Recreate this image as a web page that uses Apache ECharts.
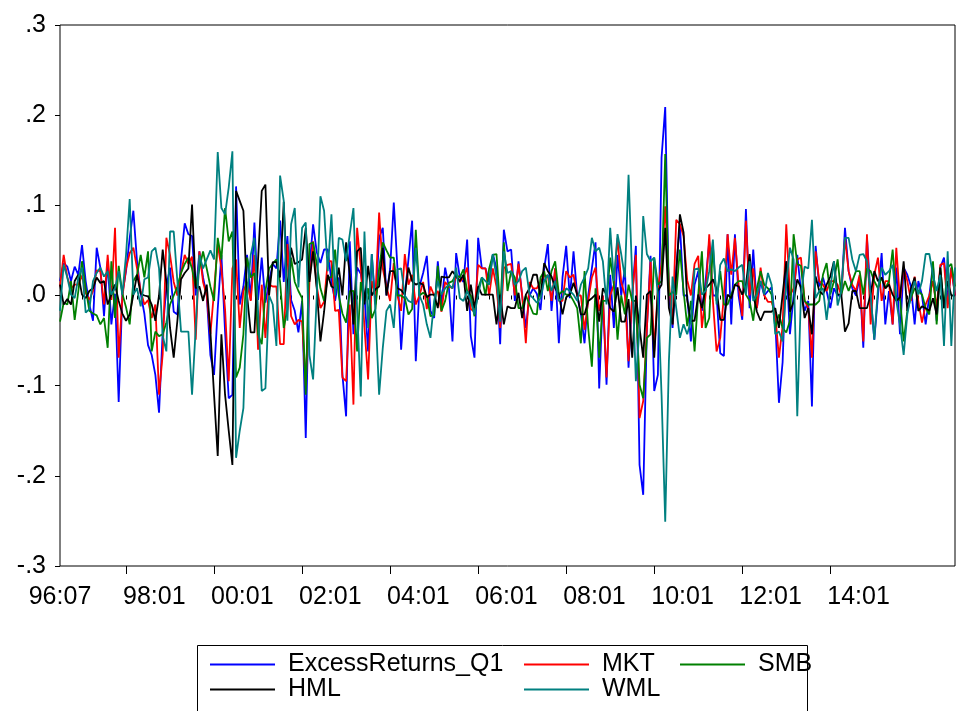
<!DOCTYPE html>
<html>
<head>
<meta charset="utf-8">
<script src="https://cdn.jsdelivr.net/npm/echarts@6/dist/echarts.min.js"></script>
<style>
  html, body { margin: 0; padding: 0; background: #fff; }
  #chart { width: 956px; height: 711px; }
</style>
</head>
<body>
<div id="chart"></div>
<script>
// Monthly sample: 1996:07 onward, 245 observations
const startYear = 1996, startMonth = 7, nObs = 245;
const months = [];
for (let k = 0; k < nObs; k++) {
  const m = (startMonth - 1) + k;
  const y = startYear + Math.floor(m / 12);
  months.push(String(y % 100).padStart(2, '0') + ':' + String(m % 12 + 1).padStart(2, '0'));
}

// Axis tick labels
const firstTickLabel = '96:07';
const yearTickLabels = ['98:01', '00:01', '02:01', '04:01', '06:01', '08:01', '10:01', '12:01', '14:01'];
const yTickLabels = ['-.3', '-.2', '-.1', '.0', '.1', '.2', '.3'];

// Series (monthly returns)
const excessQ1 = [
  .016, .036, .032, .016, .032, .023, .056, .016, -.010, -.028,
  .053, .031, -.023, .038, -.032, .002, -.118, .002, .027, .064,
  .094, .038, .002, -.020, -.055, -.066, -.088, -.130, -.040, .010,
  .031, -.018, -.021, .040, .080, .068, .066, .000, .049, .020,
  .000, -.066, -.088, -.015, .045, -.040, -.114, -.110, .121, -.010,
  .010, .045, -.005, .081, -.005, .042, -.008, .015, .035, .030,
  .083, .015, .066, -.005, -.017, -.041, -.006, -.158, .030, .079,
  .048, .036, .051, .051, .015, -.006, .020, -.088, -.134, .060,
  -.043, .031, .024, .000, -.062, .046, -.010, .064, .075, .000,
  .030, .103, .030, -.060, .000, .040, .083, -.073, .010, .025,
  .044, -.017, -.025, .038, -.010, .031, .010, -.051, .047, .020,
  .015, .062, -.045, -.069, .064, .030, .030, .015, .046, .030,
  -.054, .073, .049, .051, -.006, .038, .000, -.036, .000, .008,
  .002, -.016, .030, .057, -.017, .030, -.053, .020, .055, -.003,
  .049, .000, -.020, -.053, .000, .030, .059, -.103, .000, -.099,
  .023, -.036, .045, .000, .030, -.080, .000, .055, -.188, -.221,
  -.036, .044, -.106, -.088, .153, .209, .000, -.036, .030, .079,
  .000, .000, -.051, .012, .027, -.017, .016, .060, .000, .000,
  -.064, -.067, .068, -.032, .068, .000, -.027, .096, -.014, .051,
  -.014, .016, .000, .005, .009, -.028, -.119, -.074, .038, -.043,
  .000, .045, .005, -.017, -.006, -.123, .055, .010, .020, .005,
  -.014, .008, .000, .000, .075, .027, .008, .000, .020, -.058,
  .064, .000, -.049, .000, .047, -.032, .005, -.032, .031, -.043,
  .031, .023, .010, -.032, .016, .000, -.032, .000, .034, -.028,
  .031, .042, -.006, .031, .000
];
const mkt = [
  .010, .045, .020, .008, .012, .012, .022, .003, -.005, .005,
  .028, .027, -.010, .045, -.005, .075, -.069, -.002, .030, .047,
  .053, .030, .005, -.010, -.005, -.025, -.010, -.110, -.065, .064,
  .045, .015, .000, .025, .045, .035, .043, -.049, .049, .015,
  .000, -.043, .005, .057, .030, -.015, -.095, .030, .040, -.036,
  .005, .015, -.006, .045, -.060, .012, -.047, .012, .010, .010,
  -.054, -.054, .057, -.023, -.032, -.027, -.029, -.100, .015, .060,
  .010, -.014, -.007, .038, .038, -.017, -.016, -.091, -.095, -.010,
  -.121, .075, .031, -.035, -.093, .016, .000, .092, .030, .010,
  -.006, .036, .000, -.017, .046, .012, .023, -.010, .000, .015,
  -.015, .010, .000, .005, -.018, .015, .010, .008, .022, .015,
  .020, .031, -.015, -.018, .034, .030, .030, .000, .030, .010,
  -.036, .030, .034, .035, .000, .035, .000, -.053, .015, .008,
  .008, .015, .022, .022, -.006, .030, -.006, -.006, .027, .020,
  .023, .000, .000, -.038, -.006, .020, .031, -.017, .000, -.091,
  .000, .012, .064, .015, .000, -.073, .000, .045, -.136, -.117,
  -.036, .038, -.062, .008, .035, .099, .015, -.032, .084, .079,
  .066, .017, .000, .035, .044, -.036, .000, .068, -.006, -.062,
  -.047, .000, .068, .023, .064, .012, -.023, .083, .000, .030,
  -.014, .031, .000, -.007, -.007, -.020, -.069, -.034, .079, .000,
  .008, .040, .042, -.006, -.014, -.069, .049, .016, .012, .005,
  .016, .016, .012, .000, .064, .027, .012, .005, .023, -.051,
  .068, -.032, .023, .042, -.006, .016, .016, -.032, .053, -.006,
  .031, .016, -.006, .021, -.006, -.030, -.010, .000, .016, -.014,
  .034, .036, -.014, .031, .000
];
const smb = [
  -.029, -.008, -.010, .016, -.027, .005, .038, .008, -.017, -.020,
  -.022, -.032, -.025, -.058, .038, -.025, .033, .002, -.013, -.032,
  .016, .023, .045, .020, .049, -.062, -.040, -.045, -.043, -.030,
  -.010, .000, .010, .025, .035, .042, .030, .010, .030, .049,
  .030, .010, -.006, .064, .040, .097, .060, .071, -.091, -.080,
  -.043, .042, .020, .025, -.043, -.054, .005, .030, .035, .040,
  .015, -.036, -.015, .042, .015, .005, -.003, -.110, .057, .059,
  .035, .008, -.006, .020, .020, .051, .000, -.020, -.030, .005,
  .005, -.062, .015, -.006, .008, -.025, -.015, .030, .059, .050,
  .042, .042, .000, .000, -.003, -.021, -.015, .073, .000, .003,
  .000, -.023, -.022, .033, -.017, -.006, .014, .016, .023, .020,
  .029, .005, .000, -.023, .008, .020, .000, .030, .045, .046,
  -.014, .059, .005, .027, .020, -.014, -.014, .000, -.010, -.020,
  -.021, .020, .027, .005, .027, .038, .001, .005, .001, .001,
  -.006, -.014, -.053, .027, -.036, -.079, .008, -.069, -.006, -.006,
  .042, .012, -.049, .000, -.021, .012, -.006, -.006, -.099, -.114,
  -.047, -.043, .042, .012, .016, .157, .000, .004, .001, .051,
  .005, -.034, -.006, -.062, .001, .049, -.036, -.025, .055, -.006,
  .027, -.010, -.010, .001, .012, .016, .016, .001, -.006, -.028,
  .008, .027, .012, .008, .001, -.036, -.021, -.036, -.041, -.028,
  .068, .035, .033, -.006, -.010, -.010, -.010, -.006, .023, .036,
  .001, .016, .040, .001, .016, .005, .016, .027, .027, .001,
  .030, .027, .016, .008, .020, .008, .016, .051, -.006, -.002,
  -.051, -.017, -.002, .008, .005, .001, -.014, -.021, .038, -.032,
  .031, -.014, .031, .035, .010
];
const hml = [
  .012, -.010, -.004, -.010, .016, .023, .001, -.003, .005, .008,
  .020, .014, .016, -.010, .001, .012, -.006, -.020, -.028, -.021,
  .001, .023, .002, .000, -.001, -.010, -.028, .000, .051, .015,
  -.036, -.069, -.028, .018, .025, .030, .101, .008, .010, -.006,
  .012, -.040, -.110, -.178, -.043, -.110, -.150, -.188, .116, .105,
  .094, .000, -.041, -.041, .040, .116, .123, .000, .037, .037,
  .020, .104, .000, .053, .035, .037, .040, .075, .015, .049,
  .008, -.051, -.018, .023, .010, .008, .031, .000, .059, .023,
  -.032, .049, .053, -.010, .033, .000, .007, .010, .053, .000,
  .027, .027, .008, .006, .001, .031, .016, .012, .014, .012,
  -.002, .001, .001, -.014, .021, .020, .020, .027, .021, .016,
  .023, -.017, .012, -.014, .010, .001, .001, .001, .001, -.032,
  .001, -.032, -.012, -.014, -.014, .003, -.025, .001, .008, .023,
  .023, -.002, .036, .027, .021, .008, .001, -.021, -.002, .001,
  .014, .001, -.021, -.021, -.006, -.003, .001, -.029, .008, .001,
  -.014, -.018, .009, -.029, -.029, -.004, -.069, .000, -.036, -.069,
  .001, .005, -.069, .005, .012, .075, -.014, -.032, .023, .090,
  .070, -.005, -.028, -.028, .001, -.014, .008, .012, .018, .007,
  -.027, -.027, .001, -.003, .012, .010, .001, .012, .046, .001,
  -.018, -.028, -.018, -.018, -.018, -.014, -.036, .001, .038, -.018,
  -.007, .018, .009, -.025, -.014, -.043, .021, .005, .001, .012,
  .021, .038, .001, .001, -.040, -.031, .005, .005, -.014, -.014,
  -.014, .001, .027, .016, .020, .008, .012, .001, -.006, -.002,
  .038, -.017, .008, .020, -.017, -.012, -.014, -.017, -.003, -.021,
  .031, -.014, .016, .000, .000
];
const wml = [
  -.017, .034, .020, .001, -.003, .020, .031, -.019, -.015, .016,
  .025, .031, .021, .027, .001, .008, .027, .001, .045, .107,
  .001, .008, -.012, .018, .020, .049, .053, .030, -.045, -.062,
  .071, .071, .016, -.040, -.040, -.040, -.110, -.036, .045, .030,
  .040, .050, .040, .159, .097, .090, .120, .160, -.180, -.150,
  -.125, .000, .045, .064, -.017, -.106, -.103, .000, -.010, -.056,
  .133, .105, -.028, .079, .097, .009, .075, .081, -.066, -.093,
  .000, .110, .094, .027, .090, .000, .064, .062, .038, .068,
  .097, -.014, -.112, .071, -.036, .046, -.017, -.110, -.058, -.017,
  -.010, -.036, .029, .030, .000, -.006, -.008, .053, .000, -.010,
  -.032, -.047, -.006, .016, .001, .008, .012, .008, .031, -.003,
  -.006, .005, -.006, -.021, .001, .020, .016, .012, .046, .020,
  -.029, .049, .025, .027, .012, .016, .027, .031, .001, -.003,
  -.008, -.003, .016, .023, .005, .016, -.006, -.003, .008, .005,
  .001, -.006, .012, .020, .030, .064, .049, .053, .038, -.010,
  .075, .016, .068, .046, .020, .134, .020, -.095, -.036, .088,
  .046, .038, .042, .001, -.110, -.251, -.073, .021, -.014, -.047,
  -.032, -.043, -.028, .029, .030, .001, .005, .027, .062, -.010,
  .034, .041, .027, .029, .027, .031, .034, .001, .038, -.006,
  .001, .016, .001, .025, .012, -.043, -.040, -.051, .012, .053,
  .040, -.134, .001, .032, .030, .084, -.003, .005, .008, -.027,
  .008, .038, -.011, .005, .064, .064, .040, .027, .045, .046,
  .038, .001, -.049, .008, .031, .023, .027, .034, -.006, -.032,
  -.066, -.021, .001, .016, .001, .016, .046, .046, .023, .005,
  .023, -.056, .049, -.056, .031
];

const seriesNames = ['ExcessReturns_Q1', 'MKT', 'SMB', 'HML', 'WML'];
const seriesColors = ['#0000FF', '#FF0000', '#008000', '#000000', '#008080'];
const seriesData = [excessQ1, mkt, smb, hml, wml];

const FONT = "'Liberation Sans', Arial, sans-serif";
const AXIS_FS = 25;
const LEGEND_FS = 25;

const chart = echarts.init(document.getElementById('chart'), null, { renderer: 'canvas' });

const legendCommon = {
  orient: 'vertical',
  top: 652,
  padding: 0,
  itemGap: 0,
  itemWidth: 65,
  itemHeight: 2,
  icon: 'rect',
  selectedMode: false,
  textStyle: { fontFamily: FONT, fontSize: LEGEND_FS, color: '#000', lineHeight: 23, padding: [0, 0, 0, 8] }
};

const labelCommon = { fontFamily: FONT, fontSize: AXIS_FS, color: '#000' };

const option = {
  animation: false,
  backgroundColor: '#fff',
  grid: {
    left: 60, right: 1, top: 25, bottom: 145,
    show: true, borderColor: '#000', borderWidth: 1, backgroundColor: 'transparent'
  },
  xAxis: [
    {
      // quarterly minor ticks
      type: 'category', data: months, boundaryGap: false, position: 'bottom',
      axisLine: { show: false },
      axisTick: { show: true, length: 4, interval: 2, lineStyle: { color: '#000' } },
      axisLabel: { show: false },
      splitLine: { show: false }
    },
    {
      // two-year major ticks and labels
      type: 'category', data: months, boundaryGap: false, position: 'bottom',
      axisLine: { show: false },
      axisTick: { show: true, length: 8, interval: (i, v) => yearTickLabels.includes(v), lineStyle: { color: '#000' } },
      axisLabel: Object.assign({
        interval: (i, v) => yearTickLabels.includes(v),
        margin: 19, align: 'left', padding: [0, 0, 0, -3]
      }, labelCommon),
      splitLine: { show: false }
    },
    {
      // first observation label
      type: 'category', data: months, boundaryGap: false, position: 'bottom',
      axisLine: { show: false },
      axisTick: { show: false },
      axisLabel: Object.assign({
        interval: (i, v) => v === firstTickLabel,
        margin: 19, align: 'center'
      }, labelCommon),
      splitLine: { show: false }
    }
  ],
  yAxis: {
    type: 'value', min: -0.3, max: 0.3, interval: 0.1,
    axisLine: { show: false },
    axisTick: { show: true, length: 5, lineStyle: { color: '#000' } },
    axisLabel: Object.assign({
      margin: 14,
      formatter: (v) => yTickLabels[Math.round(v * 10) + 3]
    }, labelCommon),
    splitLine: { show: false }
  },
  legend: [
    Object.assign({}, legendCommon, { left: 210, data: ['ExcessReturns_Q1', 'HML'] }),
    Object.assign({}, legendCommon, { left: 524, data: ['MKT', 'WML'] }),
    Object.assign({}, legendCommon, { left: 680, data: ['SMB'] })
  ],
  graphic: [{
    type: 'rect', z: -1,
    shape: { x: 197.5, y: 645.5, width: 610, height: 70 },
    style: { fill: '#fff', stroke: '#000', lineWidth: 1 }
  }],
  series: seriesNames.map((name, k) => ({
    name: name,
    type: 'line',
    xAxisIndex: 0,
    data: seriesData[k],
    showSymbol: false,
    symbol: 'none',
    color: seriesColors[k],
    lineStyle: { color: seriesColors[k], width: 1.8 },
    emphasis: { disabled: true }
  }))
};

chart.setOption(option);
</script>
</body>
</html>
